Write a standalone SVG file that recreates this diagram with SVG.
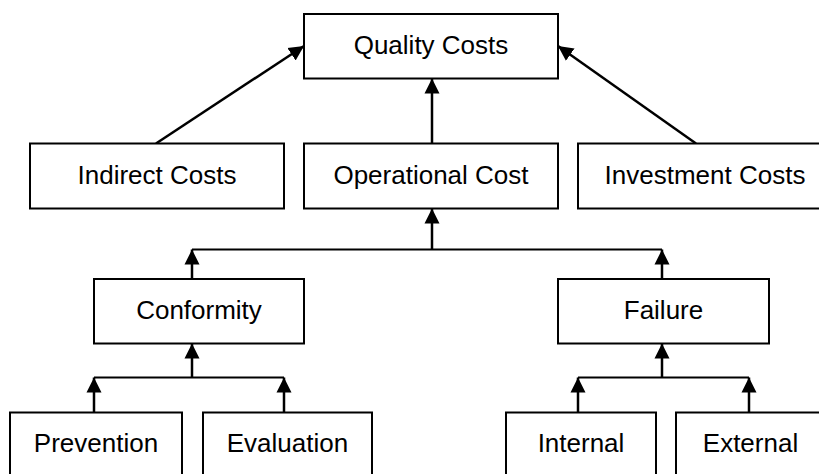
<svg xmlns="http://www.w3.org/2000/svg" width="819" height="474" viewBox="0 0 819 474">
  <style>
    .box { fill: #ffffff; stroke: #000000; stroke-width: 2; }
    .label { font-family: "Liberation Sans", Arial, sans-serif; font-size: 26px; fill: #000000; text-anchor: middle; }
    .wire { fill: none; stroke: #000000; stroke-width: 2.5; }
    .bus { fill: none; stroke: #000000; stroke-width: 2; }
  </style>
  <defs>
    <marker id="arrow" markerUnits="userSpaceOnUse" markerWidth="16" markerHeight="16" viewBox="0 0 16 16" refX="15" refY="8" orient="auto">
      <path d="M0,0.5 L15,8 L0,15.5 Z" fill="#000000"/>
    </marker>
  </defs>

  <rect width="819" height="474" fill="#ffffff"/>

  <!-- connectors -->
  <g id="connectors">
    <line class="wire" x1="156" y1="143.5" x2="304" y2="46" marker-end="url(#arrow)"/>
    <line class="wire" x1="696" y1="143.5" x2="558" y2="46" marker-end="url(#arrow)"/>
    <line class="wire" x1="432" y1="143.5" x2="432" y2="78.5" marker-end="url(#arrow)"/>

    <line class="bus" x1="192" y1="249.5" x2="662" y2="249.5"/>
    <line class="wire" x1="432" y1="249.5" x2="432" y2="208.5" marker-end="url(#arrow)"/>
    <line class="wire" x1="192" y1="279" x2="192" y2="249.5" marker-end="url(#arrow)"/>
    <line class="wire" x1="662" y1="279" x2="662" y2="249.5" marker-end="url(#arrow)"/>

    <line class="bus" x1="94" y1="377.5" x2="284" y2="377.5"/>
    <line class="wire" x1="192" y1="377.5" x2="192" y2="343.5" marker-end="url(#arrow)"/>
    <line class="wire" x1="94" y1="412.5" x2="94" y2="377.5" marker-end="url(#arrow)"/>
    <line class="wire" x1="284" y1="412.5" x2="284" y2="377.5" marker-end="url(#arrow)"/>

    <line class="bus" x1="578" y1="377.5" x2="749" y2="377.5"/>
    <line class="wire" x1="662" y1="377.5" x2="662" y2="343.5" marker-end="url(#arrow)"/>
    <line class="wire" x1="578" y1="412.5" x2="578" y2="377.5" marker-end="url(#arrow)"/>
    <line class="wire" x1="749" y1="412.5" x2="749" y2="377.5" marker-end="url(#arrow)"/>
  </g>

  <!-- nodes -->
  <g id="quality-costs">
    <rect class="box" x="304" y="14" width="254" height="64.5"/>
    <text class="label" x="431" y="53.5">Quality Costs</text>
  </g>
  <g id="indirect-costs">
    <rect class="box" x="30" y="143.5" width="254" height="65"/>
    <text class="label" x="157" y="183.5">Indirect Costs</text>
  </g>
  <g id="operational-cost">
    <rect class="box" x="304" y="143.5" width="254" height="65"/>
    <text class="label" x="431" y="183.5">Operational Cost</text>
  </g>
  <g id="investment-costs">
    <rect class="box" x="578" y="143.5" width="254" height="65"/>
    <text class="label" x="705" y="183.5">Investment Costs</text>
  </g>
  <g id="conformity">
    <rect class="box" x="94" y="279" width="210" height="64.5"/>
    <text class="label" x="199" y="318.5">Conformity</text>
  </g>
  <g id="failure">
    <rect class="box" x="558" y="279" width="211" height="64.5"/>
    <text class="label" x="663.5" y="318.5">Failure</text>
  </g>
  <g id="prevention">
    <rect class="box" x="10" y="412.5" width="172" height="70"/>
    <text class="label" x="96" y="452">Prevention</text>
  </g>
  <g id="evaluation">
    <rect class="box" x="203" y="412.5" width="169" height="70"/>
    <text class="label" x="287.5" y="452">Evaluation</text>
  </g>
  <g id="internal">
    <rect class="box" x="506" y="412.5" width="150" height="70"/>
    <text class="label" x="581" y="452">Internal</text>
  </g>
  <g id="external">
    <rect class="box" x="676" y="412.5" width="150" height="70"/>
    <text class="label" x="750.5" y="452">External</text>
  </g>
</svg>
